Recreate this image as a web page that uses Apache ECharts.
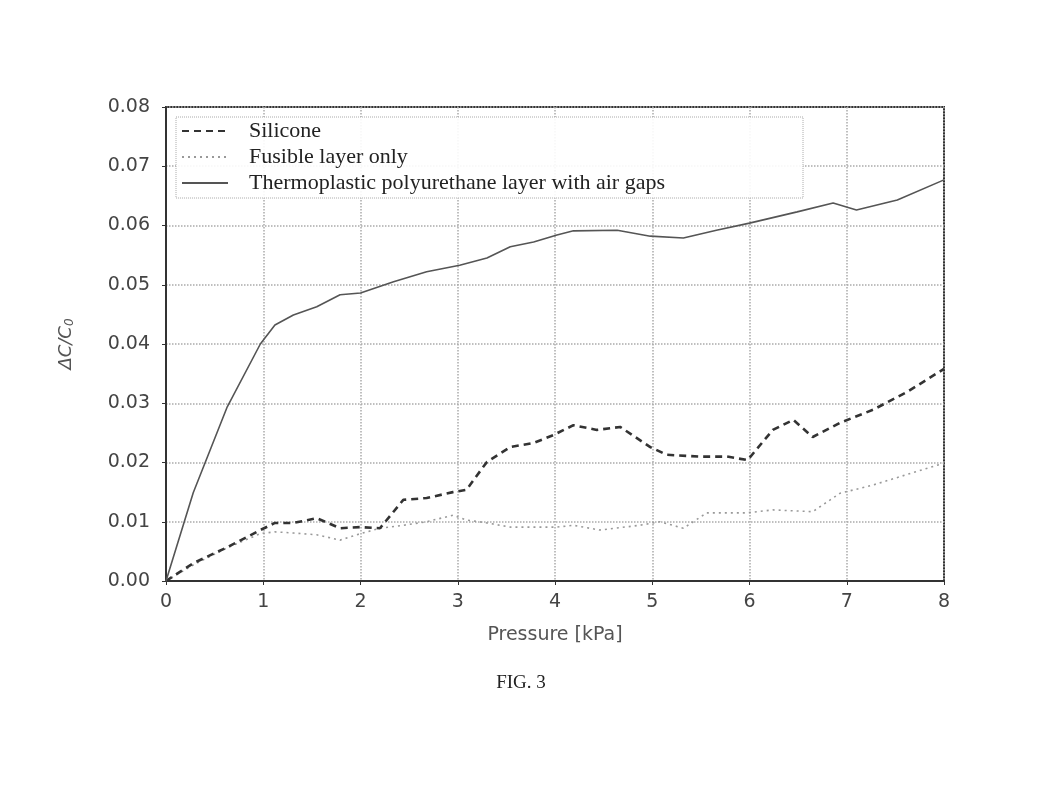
<!DOCTYPE html>
<html><head><meta charset="utf-8">
<script src="https://cdn.jsdelivr.net/npm/echarts@6/dist/echarts.min.js"></script>
<style>html,body{margin:0;padding:0;background:#fff}#c{width:1042px;height:785px}</style>
</head><body><div id="c"></div>
<script>
// Data
var seriesNames = ['Silicone', 'Fusible layer only', 'Thermoplastic polyurethane layer with air gaps'];
var xTicks = [0, 1, 2, 3, 4, 5, 6, 7, 8];
var yTicks = [0, 0.01, 0.02, 0.03, 0.04, 0.05, 0.06, 0.07, 0.08];

var siliconeP = [0, 0.28, 0.63, 0.97, 1.12, 1.31, 1.55, 1.79, 2.0, 2.2, 2.44, 2.68, 2.95, 3.09, 3.30, 3.54, 3.78, 3.98, 4.19, 4.43, 4.67, 4.98, 5.15, 5.49, 5.77, 5.98, 6.24, 6.45, 6.65, 6.93, 7.27, 7.62, 8.0];
var siliconeV = [0, 0.0030, 0.0057, 0.0086, 0.0098, 0.0098, 0.0106, 0.0089, 0.0091, 0.0089, 0.0137, 0.0140, 0.0150, 0.0154, 0.0201, 0.0226, 0.0233, 0.0246, 0.0263, 0.0255, 0.0260, 0.0226, 0.0213, 0.0210, 0.0210, 0.0204, 0.0255, 0.0272, 0.0243, 0.0267, 0.0289, 0.0319, 0.0358];

var fusibleP = [0, 0.28, 0.63, 0.97, 1.12, 1.31, 1.55, 1.79, 2.0, 2.2, 2.44, 2.68, 2.95, 3.09, 3.30, 3.54, 4.02, 4.19, 4.46, 4.87, 5.08, 5.32, 5.56, 5.97, 6.24, 6.65, 6.93, 7.27, 8.0];
var fusibleV = [0, 0.0027, 0.0056, 0.0080, 0.0083, 0.0081, 0.0078, 0.0069, 0.0080, 0.0089, 0.0094, 0.0100, 0.0111, 0.0103, 0.0098, 0.0091, 0.0091, 0.0094, 0.0086, 0.0094, 0.0100, 0.0089, 0.0115, 0.0115, 0.0120, 0.0117, 0.0148, 0.0162, 0.0199];

var tpuP = [0, 0.28, 0.63, 0.97, 1.12, 1.31, 1.55, 1.79, 2.0, 2.34, 2.68, 3.02, 3.30, 3.54, 3.78, 4.02, 4.19, 4.64, 4.98, 5.32, 5.66, 6.0, 6.49, 6.86, 7.1, 7.52, 8.0];
var tpuV = [0, 0.0149, 0.0294, 0.0400, 0.0432, 0.0449, 0.0463, 0.0483, 0.0486, 0.0505, 0.0522, 0.0533, 0.0545, 0.0564, 0.0572, 0.0584, 0.0591, 0.0592, 0.0582, 0.0579, 0.0592, 0.0604, 0.0623, 0.0638, 0.0626, 0.0643, 0.0677];

function pairs(xs, ys) { return xs.map(function (x, i) { return [x, ys[i]]; }); }

var chart = echarts.init(document.getElementById('c'), null, {renderer: 'canvas'});
var tickFont = {fontFamily: 'DejaVu Sans', fontSize: 19, color: '#444'};
chart.setOption({
  animation: false,
  backgroundColor: '#fff',
  grid: {left: 166, right: 98, top: 107, bottom: 204, show: true, borderColor: '#333', borderWidth: 2, backgroundColor: 'transparent'},
  legend: {
    show: true,
    data: seriesNames,
    orient: 'vertical',
    left: 176, top: 117,
    itemWidth: 46, itemHeight: 14, itemGap: 4,
    padding: [3, 138, 4, 5],
    borderColor: '#aaa', borderWidth: 1, borderType: 'dotted',
    backgroundColor: 'rgba(255,255,255,0.9)',
    itemStyle: {opacity: 0},
    textStyle: {fontFamily: 'Liberation Serif', fontSize: 22, lineHeight: 21, color: '#222', padding: [0, 0, 0, 16]}
  },
  xAxis: {
    type: 'value', min: 0, max: 8, interval: 1,
    name: 'Pressure [kPa]', nameLocation: 'middle', nameGap: 45,
    nameTextStyle: {fontFamily: 'DejaVu Sans', fontSize: 19, color: '#555'},
    axisLine: {show: true, lineStyle: {color: '#333', width: 2}},
    axisTick: {show: true, length: 4, lineStyle: {color: '#333'}},
    axisLabel: Object.assign({margin: 12, formatter: function (v) { return xTicks.indexOf(v) >= 0 ? String(v) : ''; }}, tickFont),
    splitLine: {show: true, lineStyle: {color: '#aaa', type: 'dotted', width: 1.5}}
  },
  yAxis: {
    type: 'value', min: 0, max: 0.08, interval: 0.01,
    name: '{a|ΔC/C}{b|0}', nameLocation: 'middle', nameGap: 90, nameRotate: 90,
    nameTextStyle: {rich: {
      a: {fontFamily: 'DejaVu Sans', fontStyle: 'italic', fontSize: 18, color: '#555'},
      b: {fontFamily: 'DejaVu Sans', fontStyle: 'italic', fontSize: 12, color: '#555', verticalAlign: 'bottom', padding: [7, 0, 0, 0]}
    }},
    axisLine: {show: true, lineStyle: {color: '#333', width: 2}},
    axisTick: {show: true, length: 4, lineStyle: {color: '#333'}},
    axisLabel: Object.assign({margin: 16, formatter: function (v) { var t = yTicks.find(function (y) { return Math.abs(y - v) < 1e-9; }); return t === undefined ? '' : t.toFixed(2); }}, tickFont),
    splitLine: {show: true, lineStyle: {color: '#aaa', type: 'dotted', width: 1.5}}
  },
  series: [
    {name: seriesNames[0], type: 'line', data: pairs(siliconeP, siliconeV), showSymbol: false, symbol: 'none',
      lineStyle: {color: '#333', width: 2.6, type: [7, 5]}, itemStyle: {color: '#333'}, z: 4},
    {name: seriesNames[1], type: 'line', data: pairs(fusibleP, fusibleV), showSymbol: false, symbol: 'none',
      lineStyle: {color: '#999', width: 1.6, type: [2, 4]}, itemStyle: {color: '#999'}, z: 3},
    {name: seriesNames[2], type: 'line', data: pairs(tpuP, tpuV), showSymbol: false, symbol: 'none',
      lineStyle: {color: '#555', width: 1.6, type: 'solid'}, itemStyle: {color: '#555'}, z: 5}
  ],
  graphic: [
    {type: 'text', left: 'center', top: 674, style: {text: 'FIG. 3', fontFamily: 'Liberation Serif', fontSize: 19, fill: '#222'}}
  ]
});
</script>
</body></html>
